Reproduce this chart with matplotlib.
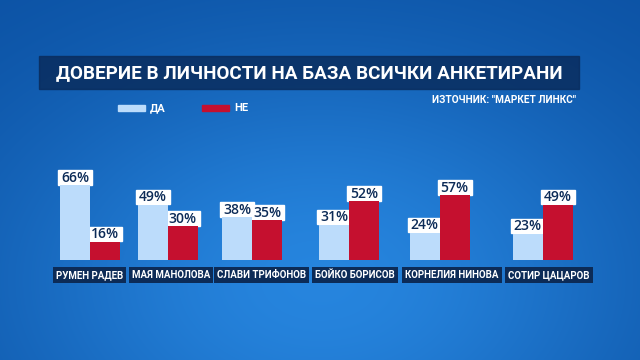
import numpy as np
import matplotlib.pyplot as plt
from matplotlib.patches import Rectangle

# data
names = ['РУМЕН РАДЕВ', 'МАЯ МАНОЛОВА', 'СЛАВИ ТРИФОНОВ',
         'БОЙКО БОРИСОВ', 'КОРНЕЛИЯ НИНОВА', 'СОТИР ЦАЦАРОВ']
yes_vals = [66, 49, 38, 31, 24, 23]
no_vals = [16, 30, 35, 52, 57, 49]
legend_labels = ['ДА', 'НЕ']
title = 'ДОВЕРИЕ В ЛИЧНОСТИ НА БАЗА ВСИЧКИ АНКЕТИРАНИ'
source = 'ИЗТОЧНИК: "МАРКЕТ ЛИНКС"'

c_yes = '#bcdcfb'
c_no = '#c5102f'
navy = '#0c2b57'

plt.rcParams['font.family'] = ['Roboto', 'DejaVu Sans']

fig = plt.figure(figsize=(6.4, 3.6), dpi=100)

# background, pixel coords
bg = fig.add_axes([0, 0, 1, 1])
bg.set_xlim(0, 640)
bg.set_ylim(360, 0)
bg.axis('off')
yy, xx = np.mgrid[0:360, 0:640]
glow = np.exp(-((xx - 320) / 340.0) ** 2 - ((yy - 280) / 230.0) ** 2)
dark = np.array([0.04, 0.31, 0.63])
light = np.array([0.15, 0.52, 0.87])
img = dark + glow[..., None] * (light - dark)
bg.imshow(img, extent=(0, 640, 360, 0), aspect='auto', zorder=0)

# title box
bg.add_patch(Rectangle((39, 56), 540, 33, color='#0a2d5e', alpha=0.85, zorder=1))
bg.text(309, 73, title, color='white', fontsize=13.6, fontweight='bold',
        ha='center', va='center', zorder=2)
bg.text(576, 100, source, color='white', fontsize=7.3, fontweight='bold',
        ha='right', va='center', zorder=2)

# legend
for x0, col, lab in [(118, c_yes, legend_labels[0]), (202, c_no, legend_labels[1])]:
    bg.add_patch(Rectangle((x0, 105), 27, 5.5, color=col, zorder=2))
    bg.text(x0 + 32, 108, lab, color='white', fontsize=8, fontweight='bold',
            ha='left', va='center', zorder=2)

# group placement follows the name boxes
box_w = [6.35 * len(n) for n in names]
lefts = []
x = 55
for w in box_w:
    lefts.append(x)
    x += w + 8
centers = [l + 35 for l in lefts]

for l, w, n in zip(lefts, box_w, names):
    bg.text(l + w / 2, 275, n, color='white', fontsize=7, fontweight='bold',
            ha='center', va='center', zorder=3,
            bbox=dict(boxstyle='square,pad=0.3', fc=navy, ec='none'))

# bars
bax = fig.add_axes([0, 100 / 360, 1, 86 / 360])
bax.patch.set_alpha(0)
bax.set_xlim(0, 640)
bax.set_ylim(0, 76)
bax.axis('off')
bw = 30
xs_yes = [c - bw / 2 for c in centers]
xs_no = [c + bw / 2 for c in centers]
bax.bar(xs_yes, yes_vals, bw, color=c_yes)
bax.bar(xs_no, no_vals, bw, color=c_no)

# value labels: white boxes sitting on the bar tops
for xs, vals in [(xs_yes, yes_vals), (xs_no, no_vals)]:
    for xv, v in zip(xs, vals):
        px, py = bax.transData.transform((xv, v))
        top = 360 - py
        bg.add_patch(Rectangle((px - 17, top - 15), 34, 14.5, color='white', zorder=4))
        bg.text(px, top - 3.5, f'{v}%', color=navy, fontsize=10,
                family=['Open Sans', 'DejaVu Sans'], fontweight='semibold',
                ha='center', va='baseline', zorder=5)

fig.savefig('out.png', dpi=100)
